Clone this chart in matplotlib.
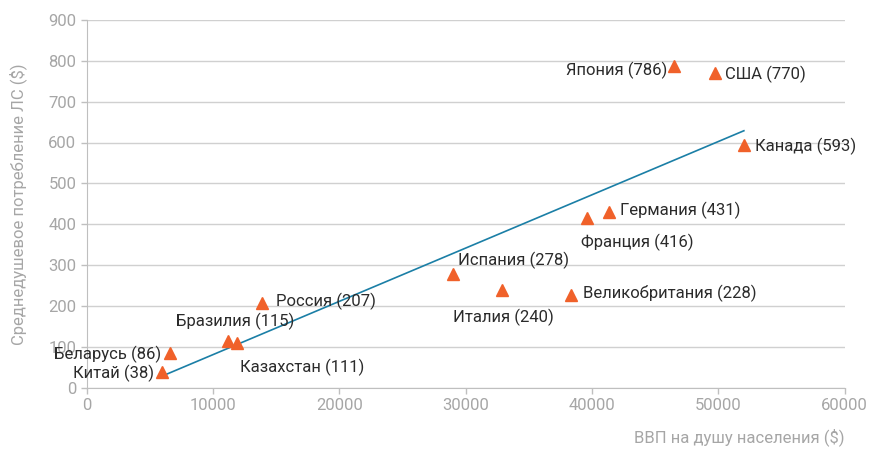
import matplotlib
matplotlib.use("Agg")
import matplotlib.pyplot as plt
import numpy as np

countries = ["Китай", "Беларусь", "Бразилия", "Казахстан", "Россия", "Испания",
             "Италия", "Великобритания", "Франция", "Германия", "Япония", "США", "Канада"]
gdp = np.array([5950, 6570, 11160, 11880, 13860, 28980, 32860, 38320, 39590, 41330, 46480, 49720, 52020])
spend = np.array([38, 86, 115, 111, 207, 278, 240, 228, 416, 431, 786, 770, 593])

# label offsets in points (dx, dy, ha)
offsets = {
    "Китай": (-6, -1, "right"),
    "Беларусь": (-6, -1, "right"),
    "Бразилия": (5, 14, "center"),
    "Казахстан": (2, -18, "left"),
    "Россия": (10, 1, "left"),
    "Испания": (4, 10, "left"),
    "Италия": (1, -20, "center"),
    "Великобритания": (9, 1, "left"),
    "Франция": (-4, -18, "left"),
    "Германия": (8, 1, "left"),
    "Япония": (-5, -3, "right"),
    "США": (7, -1, "left"),
    "Канада": (8, -1, "left"),
}

plt.rcParams['font.family'] = ['Roboto', 'DejaVu Sans']
grey = "#a6a6a6"

fig = plt.figure(figsize=(8.69, 4.5), dpi=100)
ax = fig.add_axes([0.100, 0.138, 0.872, 0.818])

k, b = np.polyfit(gdp, spend, 1)
xs = np.array([gdp.min(), gdp.max()])
ax.plot(xs, k * xs + b, color="#1b7fa6", lw=1.2, zorder=2)

ax.plot(gdp, spend, linestyle="none", marker="^", markersize=8.5,
        color="#f0612a", zorder=3)

for name, x, y in zip(countries, gdp, spend):
    dx, dy, ha = offsets[name]
    ax.annotate(f"{name} ({y})", (x, y), xytext=(dx, dy), textcoords="offset points",
                ha=ha, va="center", fontsize=12, color="#2b2b2b", zorder=4)

ax.set_xlim(0, 60000)
ax.set_ylim(0, 900)
ax.set_xticks(np.arange(0, 60001, 10000))
ax.set_yticks(np.arange(0, 901, 100))
ax.yaxis.grid(True, color="#d0d0d0", lw=1)
ax.set_axisbelow(True)
for s in ["top", "right"]:
    ax.spines[s].set_visible(False)
ax.spines["left"].set_color("#bfbfbf")
ax.spines["bottom"].set_color("#bfbfbf")
ax.tick_params(colors=grey, labelsize=12, length=4, width=1)
ax.tick_params(axis="both", color="#bfbfbf")
ax.set_xlabel("ВВП на душу населения ($)", color=grey, fontsize=12)
ax.xaxis.set_label_coords(1.0, -0.11)
ax.xaxis.label.set_horizontalalignment("right")
ax.set_ylabel("Среднедушевое потребление ЛС ($)", color=grey, fontsize=12)
ax.yaxis.set_label_coords(-0.079, 0.5)

fig.savefig("out.png", dpi=100)
